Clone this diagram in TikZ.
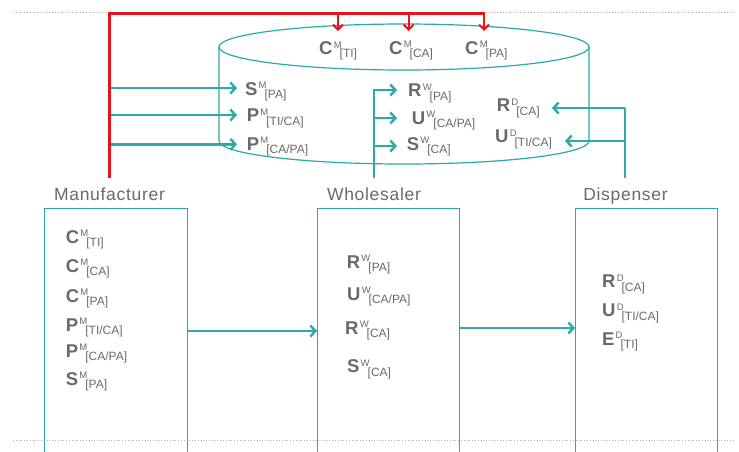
\documentclass[tikz,border=0pt]{standalone}
\usepackage{fontspec}
\setmainfont{Liberation Sans}
\newfontfamily\labfont[LetterSpace=4]{Liberation Sans}
\usetikzlibrary{arrows.meta}
\definecolor{teal1}{HTML}{2AAAA8}
\definecolor{txt}{HTML}{6A6A6A}
\definecolor{red1}{HTML}{E8141B}
\newcommand{\qv}[3]{\textbf{#1}\hspace{1.2pt}\raisebox{6.3pt}{\fontsize{9.5}{9.5}\selectfont #2}\hspace{-2pt}\raisebox{-3.5pt}{\fontsize{12}{12}\selectfont #3}}
\begin{document}
\begin{tikzpicture}[x=1pt,y=-1pt,
 var/.style={anchor=base west, inner sep=0pt, text=txt, font=\fontsize{18.5}{18.5}\selectfont},
 lab/.style={anchor=base, inner sep=0pt, text=txt, font=\labfont\fontsize{17.5}{17.5}\selectfont},
 box/.style={draw=teal1, line width=1.2pt, rectangle, anchor=north west, inner sep=0pt, minimum height=262pt},
 tarrow/.style={draw=teal1, line width=2.4pt, -{Straight Barb[length=5pt,width=11pt]}},
 tline/.style={draw=teal1, line width=2.4pt},
 rline/.style={draw=red1, line width=3pt},
 rarrow/.style={draw=red1, line width=2pt, -{Straight Barb[length=5pt,width=10pt]}},
 dots/.style={draw=black!30, line width=0.8pt, dotted},
 cyl/.style={draw=teal1, line width=1.2pt}]
\clip (0,0) rectangle (739,451);
\fill[white] (0,0) rectangle (739,451);
% dotted guide lines
\draw[dots] (13,12) -- (735,12);
\draw[dots] (13,440) -- (735,440);
% cylinder
\draw[cyl] (404,47) ellipse [x radius=185pt, y radius=23pt];
\draw[cyl] (219,47) -- (219,141) arc[start angle=180, end angle=360, x radius=185pt, y radius=23pt] -- (589,47);
% labels
\node[lab] (lm) at (109.5,200) {Manufacturer};
\node[lab] (lw) at (374,200) {Wholesaler};
\node[lab] (ld) at (625.5,200) {Dispenser};
% boxes
\node[box, minimum width=143pt] (mbox) at (44,208) {};
\node[box, minimum width=142pt] (wbox) at (317,208) {};
\node[box, minimum width=142pt] (dbox) at (575,208) {};
% cylinder variables
\node[var] (ct) at (319,54.3) {\qv{C}{M}{[TI]}};
\node[var] (cc) at (389,54) {\qv{C}{M}{[CA]}};
\node[var] (cp) at (465,54) {\qv{C}{M}{[PA]}};
\node[var] (sm) at (245,95) {\qv{S}{M}{[PA]}};
\node[var] (pm1) at (246.7,121.7) {\qv{P}{M}{[TI/CA]}};
\node[var] (pm2) at (246.7,150) {\qv{P}{M}{[CA/PA]}};
\node[var] (rw) at (408,96.7) {\qv{R}{W}{[PA]}};
\node[var] (uw) at (411.7,124) {\qv{U}{W}{[CA/PA]}};
\node[var] (sw) at (406.7,150) {\qv{S}{W}{[CA]}};
\node[var] (rd) at (496.7,111.7) {\qv{R}{D}{[CA]}};
\node[var] (ud) at (495,142.7) {\qv{U}{D}{[TI/CA]}};
% manufacturer box variables
\node[var] (b1) at (65.7,243) {\qv{C}{M}{[TI]}};
\node[var] (b2) at (65.7,272) {\qv{C}{M}{[CA]}};
\node[var] (b3) at (65.7,302) {\qv{C}{M}{[PA]}};
\node[var] (b4) at (65.7,331) {\qv{P}{M}{[TI/CA]}};
\node[var] (b5) at (65.7,357) {\qv{P}{M}{[CA/PA]}};
\node[var] (b6) at (65.7,385) {\qv{S}{M}{[PA]}};
% wholesaler box variables
\node[var] (w1) at (346.7,268) {\qv{R}{W}{[PA]}};
\node[var] (w2) at (347,300) {\qv{U}{W}{[CA/PA]}};
\node[var] (w3) at (345,334) {\qv{R}{W}{[CA]}};
\node[var] (w4) at (347,372.7) {\qv{S}{W}{[CA]}};
% dispenser box variables
\node[var] (d1) at (602,287.7) {\qv{R}{D}{[CA]}};
\node[var] (d2) at (602,316.7) {\qv{U}{D}{[TI/CA]}};
\node[var] (d3) at (602,345) {\qv{E}{D}{[TI]}};
% trunk coordinates
\coordinate (mtrunk) at (109,178);
\coordinate (wtrunk) at (374,178);
\coordinate (dtrunk) at (625,178);
% manufacturer -> database (teal)
\draw[tarrow] (mtrunk |- 0,88) -- (237,88);
\draw[tarrow] (mtrunk |- 0,115) -- (237,115);
\draw[tarrow] (mtrunk |- 0,144.3) -- (237,144.3);
% wholesaler -> database
\draw[tarrow] (wtrunk) -- (374,90) -- (397,90);
\draw[tarrow] (wtrunk |- 0,118) -- (397,118);
\draw[tarrow] (wtrunk |- 0,146) -- (397,146);
% dispenser -> database
\draw[tline] (dtrunk) -- (625,108);
\draw[tarrow] (dtrunk |- 0,108) -- (552,108);
\draw[tarrow] (dtrunk |- 0,141) -- (565,141);
% manufacturer -> database (red)
\draw[rline] (mtrunk) -- (109,13) -- (485,13);
\draw[rarrow] (338,13) -- (338,31);
\draw[rarrow] (408.7,13) -- (408.7,31);
\draw[rarrow] (484,13) -- (484,31);
% box to box
\draw[tarrow] (mbox.east |- 0,331) -- (wbox.west |- 0,331);
\draw[tarrow] (wbox.east |- 0,328) -- (dbox.west |- 0,328);
\end{tikzpicture}
\end{document}
